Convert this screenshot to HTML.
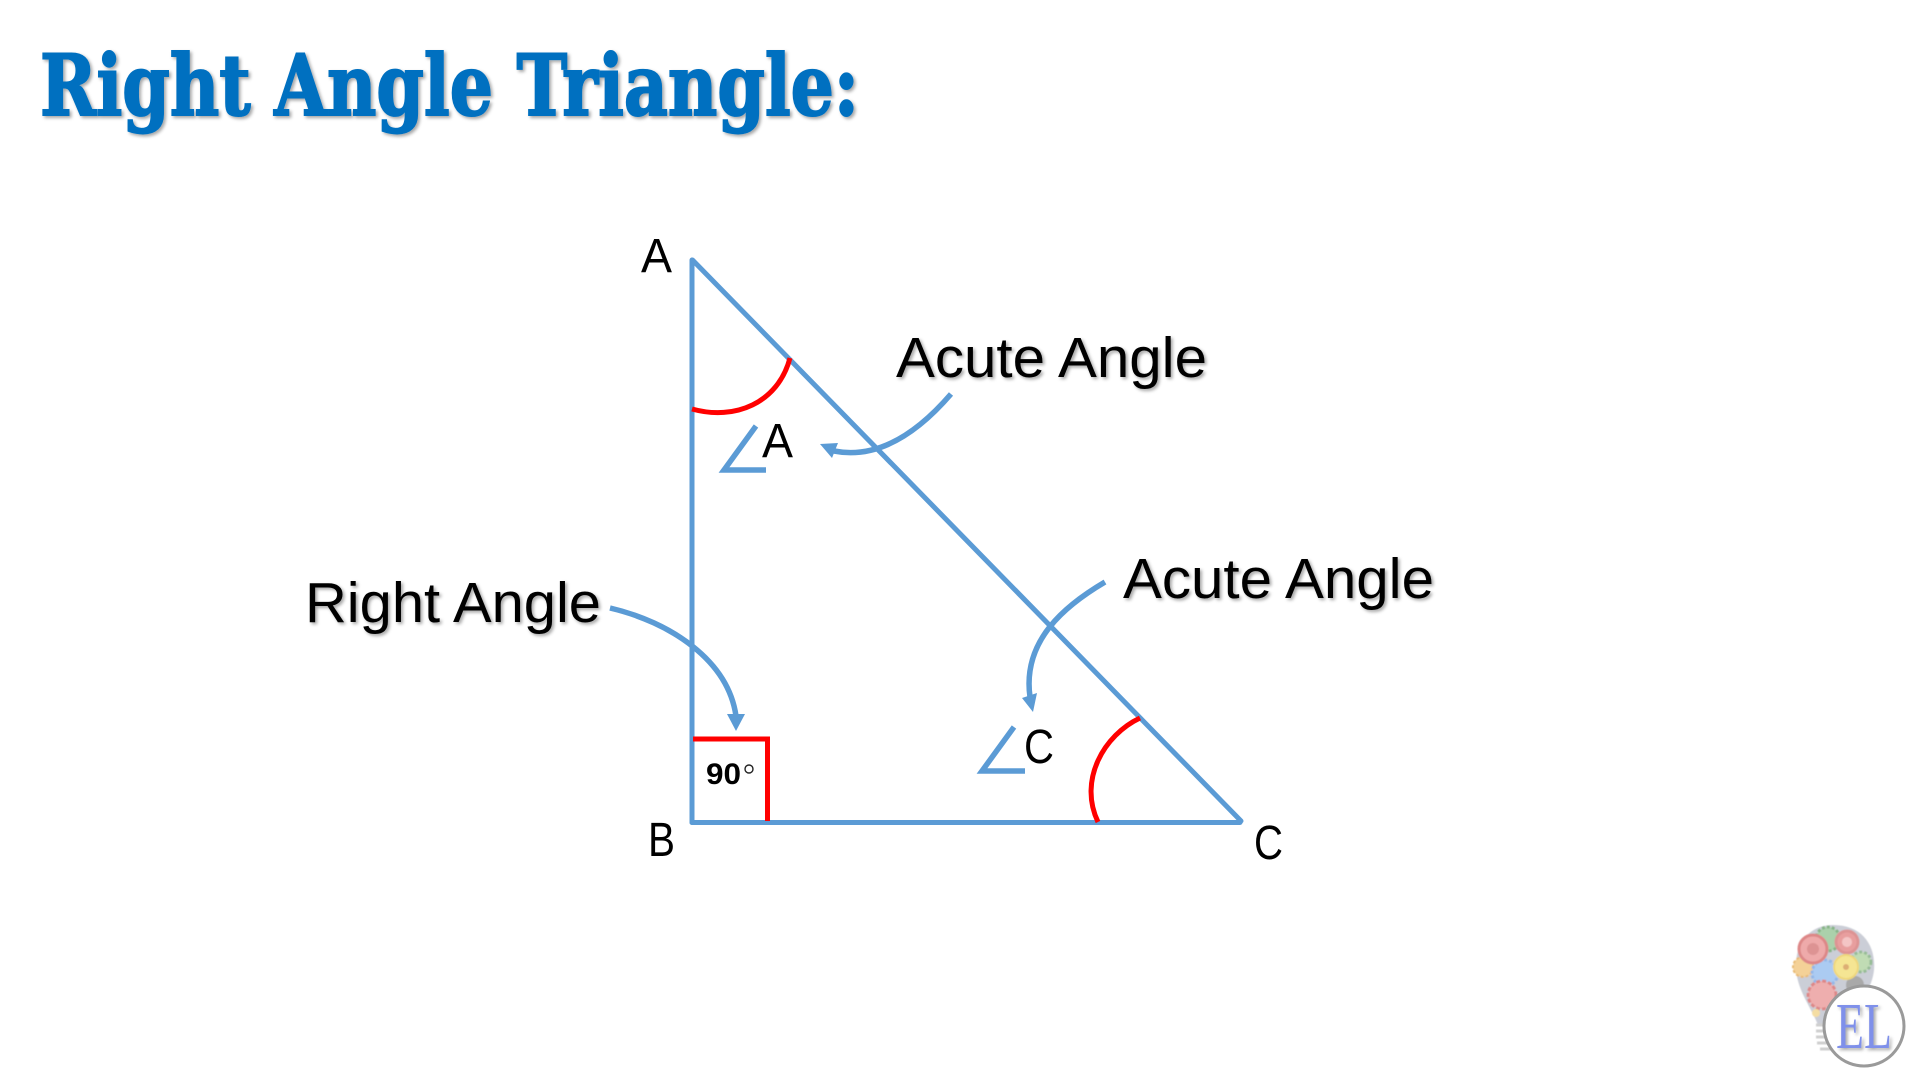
<!DOCTYPE html>
<html>
<head>
<meta charset="utf-8">
<style>
html,body{margin:0;padding:0;background:#fff;width:1920px;height:1080px;overflow:hidden}
svg{display:block}
.t{font-family:"Liberation Sans",sans-serif;fill:#000}
</style>
</head>
<body>
<svg width="1920" height="1080" viewBox="0 0 1920 1080" xmlns="http://www.w3.org/2000/svg">
<defs>
<filter id="sh" x="-5%" y="-20%" width="110%" height="140%"><feDropShadow dx="2" dy="2" stdDeviation="1.5" flood-color="#000" flood-opacity=".35"/></filter>
<filter id="bl" x="-10%" y="-10%" width="120%" height="120%"><feGaussianBlur stdDeviation=".6"/></filter>
</defs>
<rect width="1920" height="1080" fill="#fff"/>

<text x="40" y="115" font-family="'DejaVu Serif',serif" font-weight="bold" font-size="84" fill="#0070C0" stroke="#0070C0" stroke-width="2" textLength="819" lengthAdjust="spacingAndGlyphs" filter="url(#sh)">Right Angle Triangle:</text>

<g stroke="#5B9BD5" stroke-width="5" stroke-linecap="round" fill="none">
<path d="M692,260 V822.5"/>
<path d="M692,822.5 H1240"/>
<path d="M692.5,260 L1241,821"/>
</g>

<path d="M692,409 C735,421 778,403 790,358" fill="none" stroke="#FF0000" stroke-width="5"/>
<path d="M1140,718 C1104,735 1078,780 1098,822" fill="none" stroke="#FF0000" stroke-width="5"/>
<path d="M693,739 H767.5 V821" fill="none" stroke="#FF0000" stroke-width="5"/>

<path d="M756,426 L724,470 H766" fill="none" stroke="#5B9BD5" stroke-width="5.5"/>
<path d="M1014,727 L982,771 H1025" fill="none" stroke="#5B9BD5" stroke-width="5.5"/>

<g fill="none" stroke="#5B9BD5" stroke-width="5.5">
<path d="M951,394 C920,430 880,460 834,451"/>
<path d="M610,608 C670,622 728,660 736,716"/>
<path d="M1105,582 C1066,605 1022,640 1030,697"/>
</g>
<g fill="#5B9BD5">
<polygon points="820,444 838,443 832,458"/>
<polygon points="727,714 745,714 736,731"/>
<polygon points="1022,698 1037,693 1033,712"/>
</g>

<text class="t" x="641" y="272" font-size="48" textLength="31" lengthAdjust="spacingAndGlyphs">A</text>
<text class="t" x="648" y="856" font-size="48" textLength="27" lengthAdjust="spacingAndGlyphs">B</text>
<text class="t" x="1254" y="859" font-size="48" textLength="29" lengthAdjust="spacingAndGlyphs">C</text>
<text class="t" x="762" y="457" font-size="48" textLength="31" lengthAdjust="spacingAndGlyphs">A</text>
<text class="t" x="1024" y="763" font-size="48" textLength="30" lengthAdjust="spacingAndGlyphs">C</text>

<g filter="url(#sh)">
<text class="t" x="896" y="377" font-size="57" textLength="311" lengthAdjust="spacingAndGlyphs">Acute Angle</text>
<text class="t" x="1123" y="598" font-size="57" textLength="311" lengthAdjust="spacingAndGlyphs">Acute Angle</text>
<text class="t" x="305" y="622" font-size="57" textLength="296" lengthAdjust="spacingAndGlyphs">Right Angle</text>
</g>

<text class="t" x="706" y="784" font-size="30" font-weight="bold" textLength="35" lengthAdjust="spacingAndGlyphs">90</text>
<circle cx="749" cy="769" r="4" fill="none" stroke="#222" stroke-width="1.4"/>

<g opacity=".72" filter="url(#bl)">
<path d="M1833,925 C1862,925 1876,945 1874,970 C1872,990 1858,1005 1845,1025 H1818 C1810,1005 1797,990 1796,968 C1795,945 1808,925 1833,925Z" fill="#b8bcc8"/>
<g stroke="#bdbdbd" stroke-width="3"><path d="M1816,1025 h16 M1816,1031 h18 M1816,1037 h18 M1817,1043 h18 M1820,1049 h14"/></g>
<circle cx="1803" cy="967" r="10" fill="#f0c070" stroke="#e0a040" stroke-width="2" stroke-dasharray="3 2"/>
<circle cx="1828" cy="939" r="12" fill="#8cc08c" stroke="#5a9a5a" stroke-width="3" stroke-dasharray="3 2"/>
<circle cx="1847" cy="942" r="11" fill="#e07a7a" stroke="#d06a6a" stroke-width="3"/>
<circle cx="1847" cy="942" r="5" fill="#f0b0b0"/>
<circle cx="1861" cy="962" r="10" fill="#a8cf98" stroke="#6fa36f" stroke-width="3" stroke-dasharray="3 2"/>
<circle cx="1825" cy="973" r="13" fill="#8cb8ee" stroke="#6a9ce0" stroke-width="3" stroke-dasharray="3 2"/>
<circle cx="1855" cy="985" r="9" fill="#888"/>
<circle cx="1813" cy="949" r="14" fill="#e88a8a" stroke="#d05a5a" stroke-width="3"/>
<circle cx="1813" cy="949" r="6" fill="#d06a6a"/>
<circle cx="1846" cy="967" r="12" fill="#f2dc6a" stroke="#e8c84a" stroke-width="2"/>
<circle cx="1846" cy="967" r="3" fill="#d09040"/>
<circle cx="1822" cy="995" r="14" fill="#e89090" stroke="#d05a5a" stroke-width="3" stroke-dasharray="4 2"/>
<circle cx="1816" cy="1013" r="4" fill="#f0d080"/>
</g>
<circle cx="1864" cy="1026" r="40" fill="#fff" stroke="#9a9a9a" stroke-width="3"/>
<text x="1836" y="1048" font-family="'Liberation Serif',serif" font-size="66" fill="#7f90ea" textLength="56" lengthAdjust="spacingAndGlyphs" filter="url(#sh)">EL</text>
</svg>
</body>
</html>
